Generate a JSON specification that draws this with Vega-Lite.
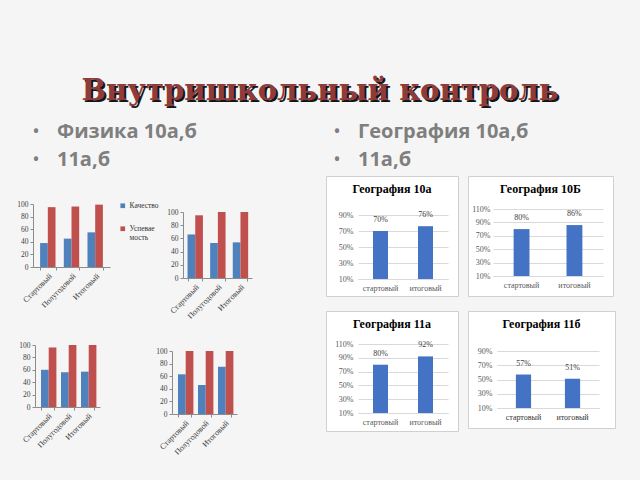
{
  "$schema": "https://vega.github.io/schema/vega-lite/v6.json",
  "background": "#f5f5f5",
  "padding": {"top": 68, "left": 0, "right": 0, "bottom": 40},
  "spacing": 1,
  "resolve": {"legend": {"color": "independent"}},
  "config": {
    "font": "Liberation Serif",
    "view": {"stroke": null},
    "axis": {"labelFont": "Liberation Serif", "labelColor": "#404040", "title": null},
    "title": {"font": "Liberation Serif"}
  },
  "datasets": {
    "physics": [
      {"panel": "Физика 10а", "stage": "Стартовый", "metric": "Качество", "value": 38},
      {"panel": "Физика 10а", "stage": "Полугодовой", "metric": "Качество", "value": 45},
      {"panel": "Физика 10а", "stage": "Итоговый", "metric": "Качество", "value": 55},
      {"panel": "Физика 10а", "stage": "Стартовый", "metric": "Успеваемость", "value": 95},
      {"panel": "Физика 10а", "stage": "Полугодовой", "metric": "Успеваемость", "value": 96},
      {"panel": "Физика 10а", "stage": "Итоговый", "metric": "Успеваемость", "value": 99},
      {"panel": "Физика 10б", "stage": "Стартовый", "metric": "Качество", "value": 66},
      {"panel": "Физика 10б", "stage": "Полугодовой", "metric": "Качество", "value": 53},
      {"panel": "Физика 10б", "stage": "Итоговый", "metric": "Качество", "value": 54},
      {"panel": "Физика 10б", "stage": "Стартовый", "metric": "Успеваемость", "value": 95},
      {"panel": "Физика 10б", "stage": "Полугодовой", "metric": "Успеваемость", "value": 100},
      {"panel": "Физика 10б", "stage": "Итоговый", "metric": "Успеваемость", "value": 100},
      {"panel": "Физика 11а", "stage": "Стартовый", "metric": "Качество", "value": 60},
      {"panel": "Физика 11а", "stage": "Полугодовой", "metric": "Качество", "value": 56},
      {"panel": "Физика 11а", "stage": "Итоговый", "metric": "Качество", "value": 57},
      {"panel": "Физика 11а", "stage": "Стартовый", "metric": "Успеваемость", "value": 96},
      {"panel": "Физика 11а", "stage": "Полугодовой", "metric": "Успеваемость", "value": 100},
      {"panel": "Физика 11а", "stage": "Итоговый", "metric": "Успеваемость", "value": 100},
      {"panel": "Физика 11б", "stage": "Стартовый", "metric": "Качество", "value": 63},
      {"panel": "Физика 11б", "stage": "Полугодовой", "metric": "Качество", "value": 46},
      {"panel": "Физика 11б", "stage": "Итоговый", "metric": "Качество", "value": 75},
      {"panel": "Физика 11б", "stage": "Стартовый", "metric": "Успеваемость", "value": 100},
      {"panel": "Физика 11б", "stage": "Полугодовой", "metric": "Успеваемость", "value": 100},
      {"panel": "Физика 11б", "stage": "Итоговый", "metric": "Успеваемость", "value": 100}
    ],
    "geo": [
      {"panel": "География 10а", "stage": "стартовый", "value": 0.70},
      {"panel": "География 10а", "stage": "итоговый", "value": 0.76},
      {"panel": "География 10Б", "stage": "стартовый", "value": 0.80},
      {"panel": "География 10Б", "stage": "итоговый", "value": 0.86},
      {"panel": "География 11а", "stage": "стартовый", "value": 0.80},
      {"panel": "География 11а", "stage": "итоговый", "value": 0.92},
      {"panel": "География 11б", "stage": "стартовый", "value": 0.57},
      {"panel": "География 11б", "stage": "итоговый", "value": 0.51}
    ],
    "heading": [{"title": "Внутришкольный контроль"}],
    "bullets": [
      {"col": "L", "line": 1, "text": "Физика 10а,б"},
      {"col": "L", "line": 2, "text": "11а,б"},
      {"col": "R", "line": 1, "text": "География 10а,б"},
      {"col": "R", "line": 2, "text": "11а,б"}
    ]
  },
  "vconcat": [
    {
      "width": 640, "height": 49,
      "data": {"name": "heading"},
      "encoding": {"text": {"field": "title"}},
      "layer": [
        {"mark": {"type": "text", "font": "DejaVu Serif", "fontSize": 29, "fontWeight": "bold", "color": "#151515", "dx": 2, "dy": 9, "baseline": "alphabetic"}},
        {"mark": {"type": "text", "font": "DejaVu Serif", "fontSize": 29, "fontWeight": "bold", "color": "#8e3b3b", "dy": 7, "baseline": "alphabetic"}}
      ]
    },
    {
      "width": 640, "height": 56,
      "data": {"name": "bullets"},
      "encoding": {
        "x": {"field": "col", "type": "nominal", "scale": {"type": "point", "domain": ["L", "R"], "range": [36, 337], "padding": 0}, "axis": null},
        "y": {"field": "line", "type": "ordinal", "scale": {"type": "point", "padding": 0.5}, "axis": null}
      },
      "layer": [
        {"mark": {"type": "text", "text": "•", "font": "Open Sans", "fontSize": 20, "color": "#7f7f7f", "align": "center", "baseline": "middle"}},
        {"mark": {"type": "text", "font": "Open Sans", "fontSize": 20, "fontWeight": "bold", "color": "#7f7f7f", "align": "left", "baseline": "middle", "dx": 21}, "encoding": {"text": {"field": "text"}}}
      ]
    },
    {
      "hconcat": [
        {
          "concat": [
            {
              "width": 110, "height": 91,
              "data": {"name": "physics"},
              "transform": [{"filter": "datum.panel == 'Физика 10а'"}],
              "mark": {"type": "bar"},
              "encoding": {
                "x": {"field": "stage", "type": "nominal", "sort": ["Стартовый", "Полугодовой", "Итоговый"], "scale": {"range": [33, 110], "paddingInner": 0.35, "paddingOuter": 0.3}, "axis": {"labelAngle": -45, "labelFontSize": 8, "domainColor": "#8c8c8c", "tickColor": "#8c8c8c", "tickSize": 3, "tickBand": "extent", "labelPadding": 2}},
                "xOffset": {"field": "metric", "sort": ["Качество", "Успеваемость"]},
                "y": {"field": "value", "type": "quantitative", "scale": {"domain": [0, 100], "range": [91, 28]}, "axis": {"values": [0, 20, 40, 60, 80, 100], "offset": -33, "labelFontSize": 7.5, "domainColor": "#8c8c8c", "tickColor": "#8c8c8c", "tickSize": 3, "grid": false, "labelPadding": 2}},
                "color": {"field": "metric", "type": "nominal", "scale": {"domain": ["Качество", "Успеваемость"], "range": ["#4F81BD", "#C0504D"]}, "legend": null}
              }
            },
            {
              "width": 142, "height": 102,
              "data": {"name": "physics"},
              "transform": [{"filter": "datum.panel == 'Физика 10б'"}],
              "mark": {"type": "bar"},
              "encoding": {
                "x": {"field": "stage", "type": "nominal", "sort": ["Стартовый", "Полугодовой", "Итоговый"], "scale": {"range": [73, 142], "paddingInner": 0.35, "paddingOuter": 0.2}, "axis": {"labelAngle": -45, "labelFontSize": 8, "domainColor": "#8c8c8c", "tickColor": "#8c8c8c", "tickSize": 3, "tickBand": "extent", "labelPadding": 2}},
                "xOffset": {"field": "metric", "sort": ["Качество", "Успеваемость"]},
                "y": {"field": "value", "type": "quantitative", "scale": {"domain": [0, 100], "range": [102, 36]}, "axis": {"values": [0, 20, 40, 60, 80, 100], "offset": -73, "labelFontSize": 7.5, "domainColor": "#8c8c8c", "tickColor": "#8c8c8c", "tickSize": 3, "grid": false, "labelPadding": 2}},
                "color": {"field": "metric", "type": "nominal", "scale": {"domain": ["Качество", "Успеваемость"], "range": ["#4F81BD", "#C0504D"]}, "legend": {"orient": "none", "legendX": 9, "legendY": 26, "title": null, "symbolType": "square", "symbolSize": 22, "symbolStrokeWidth": 0, "labelFont": "Liberation Serif", "labelFontSize": 7.5, "labelColor": "#333333", "rowPadding": 14, "labelOffset": 3, "labelExpr": "datum.label == 'Успеваемость' ? ['Успевае', 'мость'] : datum.label"}}
              }
            },
            {
              "width": 110, "height": 96,
              "data": {"name": "physics"},
              "transform": [{"filter": "datum.panel == 'Физика 11а'"}],
              "mark": {"type": "bar"},
              "encoding": {
                "x": {"field": "stage", "type": "nominal", "sort": ["Стартовый", "Полугодовой", "Итоговый"], "scale": {"range": [35, 100], "paddingInner": 0.35, "paddingOuter": 0.3}, "axis": {"labelAngle": -45, "labelFontSize": 8, "domainColor": "#8c8c8c", "tickColor": "#8c8c8c", "tickSize": 3, "tickBand": "extent", "labelPadding": 2}},
                "xOffset": {"field": "metric", "sort": ["Качество", "Успеваемость"]},
                "y": {"field": "value", "type": "quantitative", "scale": {"domain": [0, 100], "range": [96, 34]}, "axis": {"values": [0, 20, 40, 60, 80, 100], "offset": -35, "labelFontSize": 7.5, "domainColor": "#8c8c8c", "tickColor": "#8c8c8c", "tickSize": 3, "grid": false, "labelPadding": 2}},
                "color": {"field": "metric", "type": "nominal", "scale": {"domain": ["Качество", "Успеваемость"], "range": ["#4F81BD", "#C0504D"]}, "legend": null}
              }
            },
            {
              "width": 127, "height": 103,
              "data": {"name": "physics"},
              "transform": [{"filter": "datum.panel == 'Физика 11б'"}],
              "mark": {"type": "bar"},
              "encoding": {
                "x": {"field": "stage", "type": "nominal", "sort": ["Стартовый", "Полугодовой", "Итоговый"], "scale": {"range": [62, 127], "paddingInner": 0.35, "paddingOuter": 0.3}, "axis": {"labelAngle": -45, "labelFontSize": 8, "domainColor": "#8c8c8c", "tickColor": "#8c8c8c", "tickSize": 3, "tickBand": "extent", "labelPadding": 2}},
                "xOffset": {"field": "metric", "sort": ["Качество", "Успеваемость"]},
                "y": {"field": "value", "type": "quantitative", "scale": {"domain": [0, 100], "range": [103, 40]}, "axis": {"values": [0, 20, 40, 60, 80, 100], "offset": -62, "labelFontSize": 7.5, "domainColor": "#8c8c8c", "tickColor": "#8c8c8c", "tickSize": 3, "grid": false, "labelPadding": 2}},
                "color": {"field": "metric", "type": "nominal", "scale": {"domain": ["Качество", "Успеваемость"], "range": ["#4F81BD", "#C0504D"]}, "legend": null}
              }
            }
          ],
          "columns": 2,
          "align": "each",
          "spacing": {"row": 33, "column": 0},
          "bounds": "flush",
          "resolve": {"legend": {"color": "independent"}}
        },
        {
          "concat": [
            {
              "width": 132, "height": 120,
              "view": {"fill": "white", "stroke": "#d0d0d0"},
              "title": {"text": "География 10а", "offset": -20, "fontSize": 12, "fontWeight": "bold", "anchor": "middle", "color": "#000000"},
              "data": {"name": "geo"},
              "transform": [{"filter": "datum.panel == 'География 10а'"}],
              "encoding": {
                "x": {"field": "stage", "type": "nominal", "sort": ["стартовый", "итоговый"], "scale": {"range": [32, 122], "paddingInner": 0.667, "paddingOuter": 0.333}, "axis": {"labelAngle": 0, "offset": -17, "ticks": false, "domainColor": "#d9d9d9", "labelFontSize": 8, "labelColor": "#595959", "labelPadding": 5}},
                "y": {"field": "value", "type": "quantitative", "scale": {"domain": [0.1, 0.9], "range": [103, 39]}, "axis": {"values": [0.1, 0.3, 0.5, 0.7, 0.9], "format": ".0%", "offset": -32, "domain": false, "ticks": false, "grid": true, "gridColor": "#d9d9d9", "labelFontSize": 8, "labelColor": "#595959", "labelPadding": 5}}
              },
              "layer": [
                {"mark": {"type": "bar", "color": "#4472C4"}, "encoding": {"y2": {"datum": 0.1}}},
                {"mark": {"type": "text", "dy": -7, "fontSize": 8, "color": "#404040", "baseline": "bottom"}, "encoding": {"text": {"field": "value", "format": ".0%"}}}
              ]
            },
            {
              "width": 145, "height": 120,
              "view": {"fill": "white", "stroke": "#d0d0d0"},
              "title": {"text": "География 10Б", "offset": -20, "fontSize": 12, "fontWeight": "bold", "anchor": "middle", "color": "#000000"},
              "data": {"name": "geo"},
              "transform": [{"filter": "datum.panel == 'География 10Б'"}],
              "encoding": {
                "x": {"field": "stage", "type": "nominal", "sort": ["стартовый", "итоговый"], "scale": {"range": [25, 135], "paddingInner": 0.7, "paddingOuter": 0.39}, "axis": {"labelAngle": 0, "offset": -20, "ticks": false, "domainColor": "#d9d9d9", "labelFontSize": 8, "labelColor": "#595959", "labelPadding": 5}},
                "y": {"field": "value", "type": "quantitative", "scale": {"domain": [0.1, 1.1], "range": [100, 33]}, "axis": {"values": [0.1, 0.3, 0.5, 0.7, 0.9, 1.1], "format": ".0%", "offset": -25, "domain": false, "ticks": false, "grid": true, "gridColor": "#d9d9d9", "labelFontSize": 8, "labelColor": "#595959", "labelPadding": 3}}
              },
              "layer": [
                {"mark": {"type": "bar", "color": "#4472C4"}, "encoding": {"y2": {"datum": 0.1}}},
                {"mark": {"type": "text", "dy": -7, "fontSize": 8, "color": "#404040", "baseline": "bottom"}, "encoding": {"text": {"field": "value", "format": ".0%"}}}
              ]
            },
            {
              "width": 132, "height": 120,
              "view": {"fill": "white", "stroke": "#d0d0d0"},
              "title": {"text": "География 11а", "offset": -20, "fontSize": 12, "fontWeight": "bold", "anchor": "middle", "color": "#000000"},
              "data": {"name": "geo"},
              "transform": [{"filter": "datum.panel == 'География 11а'"}],
              "encoding": {
                "x": {"field": "stage", "type": "nominal", "sort": ["стартовый", "итоговый"], "scale": {"range": [32, 122], "paddingInner": 0.667, "paddingOuter": 0.333}, "axis": {"labelAngle": 0, "offset": -18, "ticks": false, "domainColor": "#d9d9d9", "labelFontSize": 8, "labelColor": "#595959", "labelPadding": 5}},
                "y": {"field": "value", "type": "quantitative", "scale": {"domain": [0.1, 1.1], "range": [102, 33]}, "axis": {"values": [0.1, 0.3, 0.5, 0.7, 0.9, 1.1], "format": ".0%", "offset": -32, "domain": false, "ticks": false, "grid": true, "gridColor": "#d9d9d9", "labelFontSize": 8, "labelColor": "#595959", "labelPadding": 5}}
              },
              "layer": [
                {"mark": {"type": "bar", "color": "#4472C4"}, "encoding": {"y2": {"datum": 0.1}}},
                {"mark": {"type": "text", "dy": -7, "fontSize": 8, "color": "#404040", "baseline": "bottom"}, "encoding": {"text": {"field": "value", "format": ".0%"}}}
              ]
            },
            {
              "width": 147, "height": 117,
              "view": {"fill": "white", "stroke": "#d0d0d0"},
              "title": {"text": "География 11б", "offset": -20, "fontSize": 12, "fontWeight": "bold", "anchor": "middle", "color": "#000000"},
              "data": {"name": "geo"},
              "transform": [{"filter": "datum.panel == 'География 11б'"}],
              "encoding": {
                "x": {"field": "stage", "type": "nominal", "sort": ["стартовый", "итоговый"], "scale": {"range": [29, 131], "paddingInner": 0.69, "paddingOuter": 0.385}, "axis": {"labelAngle": 0, "offset": -20, "ticks": false, "domainColor": "#d9d9d9", "labelFontSize": 8, "labelColor": "#333333", "labelPadding": 5}},
                "y": {"field": "value", "type": "quantitative", "scale": {"domain": [0.1, 0.9], "range": [97, 40]}, "axis": {"values": [0.1, 0.3, 0.5, 0.7, 0.9], "format": ".0%", "offset": -29, "domain": false, "ticks": false, "grid": true, "gridColor": "#d9d9d9", "labelFontSize": 8, "labelColor": "#595959", "labelPadding": 5}}
              },
              "layer": [
                {"mark": {"type": "bar", "color": "#4472C4"}, "encoding": {"y2": {"datum": 0.1}}},
                {"mark": {"type": "text", "dy": -7, "fontSize": 8, "color": "#404040", "baseline": "bottom"}, "encoding": {"text": {"field": "value", "format": ".0%"}}}
              ]
            }
          ],
          "columns": 2,
          "align": "each",
          "spacing": {"row": 15, "column": 10},
          "bounds": "flush"
        }
      ],
      "spacing": 73,
      "resolve": {"legend": {"color": "independent"}}
    }
  ]
}
